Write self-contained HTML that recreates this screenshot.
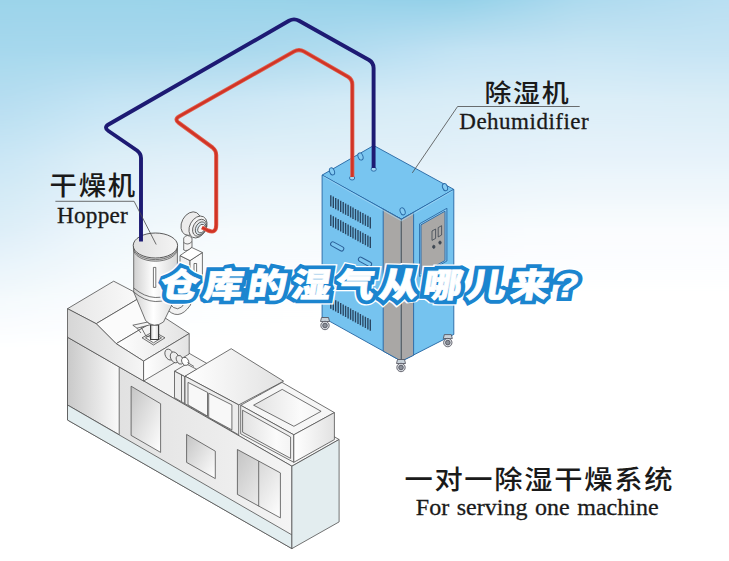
<!DOCTYPE html>
<html lang="zh"><head><meta charset="utf-8"><title>仓库的湿气从哪儿来?</title>
<style>
html,body{margin:0;padding:0;background:#fff;}
body{width:729px;height:561px;overflow:hidden;}
svg{display:block;}
.cn{font-family:"Liberation Sans","Noto Sans CJK SC","WenQuanYi Zen Hei",sans-serif;fill:#1a1a1a;font-weight:500;}
.en{font-family:"Liberation Serif","Noto Serif CJK SC",serif;fill:#1a1a1a;stroke:#1a1a1a;stroke-width:.3;}
.ttl{font-family:"Liberation Sans","Noto Sans CJK SC","WenQuanYi Zen Hei",sans-serif;font-weight:900;}
.o{stroke:#505050;stroke-width:.8;stroke-linejoin:round;}
.ob{stroke:#2a6aa6;stroke-width:.95;stroke-linejoin:round;}
</style></head><body>
<svg width="729" height="561" viewBox="0 0 729 561">
<defs>

<linearGradient id="s0" gradientUnits="userSpaceOnUse" x1="0" y1="0" x2="0" y2="561"><stop offset="0.0000" stop-color="#9cd4ea"/><stop offset="0.0891" stop-color="#a6d8ed"/><stop offset="0.1783" stop-color="#b5ddf1"/><stop offset="0.2852" stop-color="#cae6f5"/><stop offset="0.4100" stop-color="#dceef8"/><stop offset="0.5348" stop-color="#f4f9fd"/><stop offset="0.6239" stop-color="#ffffff"/><stop offset="1.0000" stop-color="#ffffff"/></linearGradient>
<linearGradient id="s1" gradientUnits="userSpaceOnUse" x1="0" y1="0" x2="0" y2="561"><stop offset="0.0000" stop-color="#9cd4ea"/><stop offset="0.0891" stop-color="#a6d8ed"/><stop offset="0.1783" stop-color="#b5ddf1"/><stop offset="0.2852" stop-color="#cae6f5"/><stop offset="0.4100" stop-color="#dceef8"/><stop offset="0.5348" stop-color="#f4f9fd"/><stop offset="0.6239" stop-color="#ffffff"/><stop offset="1.0000" stop-color="#ffffff"/></linearGradient>
<linearGradient id="s2" gradientUnits="userSpaceOnUse" x1="0" y1="0" x2="0" y2="561"><stop offset="0.0000" stop-color="#9cd4ea"/><stop offset="0.0891" stop-color="#a6d8ed"/><stop offset="0.1783" stop-color="#b5ddf1"/><stop offset="0.2852" stop-color="#cae6f5"/><stop offset="0.4100" stop-color="#dceef8"/><stop offset="0.5348" stop-color="#f4f9fd"/><stop offset="0.6239" stop-color="#ffffff"/><stop offset="1.0000" stop-color="#ffffff"/></linearGradient>
<linearGradient id="s3" gradientUnits="userSpaceOnUse" x1="0" y1="0" x2="0" y2="561"><stop offset="0.0000" stop-color="#9cd4ea"/><stop offset="0.0891" stop-color="#a6d8ed"/><stop offset="0.1783" stop-color="#b7def1"/><stop offset="0.2852" stop-color="#cce7f5"/><stop offset="0.4100" stop-color="#dfeff8"/><stop offset="0.5348" stop-color="#f5fafd"/><stop offset="0.6239" stop-color="#ffffff"/><stop offset="1.0000" stop-color="#ffffff"/></linearGradient>
<linearGradient id="s4" gradientUnits="userSpaceOnUse" x1="0" y1="0" x2="0" y2="561"><stop offset="0.0000" stop-color="#9cd4ea"/><stop offset="0.0891" stop-color="#a6d8ed"/><stop offset="0.1783" stop-color="#bae0f2"/><stop offset="0.2852" stop-color="#d1e9f6"/><stop offset="0.4100" stop-color="#e3f1f9"/><stop offset="0.5348" stop-color="#f6fbfd"/><stop offset="0.6239" stop-color="#ffffff"/><stop offset="1.0000" stop-color="#ffffff"/></linearGradient>
<linearGradient id="s5" gradientUnits="userSpaceOnUse" x1="0" y1="0" x2="0" y2="561"><stop offset="0.0000" stop-color="#9cd4ea"/><stop offset="0.0891" stop-color="#a7d8ed"/><stop offset="0.1783" stop-color="#bee1f3"/><stop offset="0.2852" stop-color="#d6ebf7"/><stop offset="0.4100" stop-color="#e8f3fa"/><stop offset="0.5348" stop-color="#f8fbfe"/><stop offset="0.6239" stop-color="#ffffff"/><stop offset="1.0000" stop-color="#ffffff"/></linearGradient>
<linearGradient id="s6" gradientUnits="userSpaceOnUse" x1="0" y1="0" x2="0" y2="561"><stop offset="0.0000" stop-color="#9cd4ea"/><stop offset="0.0891" stop-color="#a7d8ed"/><stop offset="0.1783" stop-color="#c2e3f4"/><stop offset="0.2852" stop-color="#dbeef8"/><stop offset="0.4100" stop-color="#ecf6fb"/><stop offset="0.5348" stop-color="#f9fcfe"/><stop offset="0.6239" stop-color="#ffffff"/><stop offset="1.0000" stop-color="#ffffff"/></linearGradient>
<linearGradient id="s7" gradientUnits="userSpaceOnUse" x1="0" y1="0" x2="0" y2="561"><stop offset="0.0000" stop-color="#9cd4ea"/><stop offset="0.0891" stop-color="#a7d8ed"/><stop offset="0.1783" stop-color="#c5e4f4"/><stop offset="0.2852" stop-color="#deeff8"/><stop offset="0.4100" stop-color="#eff7fc"/><stop offset="0.5348" stop-color="#fafdfe"/><stop offset="0.6239" stop-color="#ffffff"/><stop offset="1.0000" stop-color="#ffffff"/></linearGradient>
<linearGradient id="s8" gradientUnits="userSpaceOnUse" x1="0" y1="0" x2="0" y2="561"><stop offset="0.0000" stop-color="#9bd4ea"/><stop offset="0.0891" stop-color="#a8d8ed"/><stop offset="0.1783" stop-color="#c6e4f4"/><stop offset="0.2852" stop-color="#dfeff8"/><stop offset="0.4100" stop-color="#f1f8fc"/><stop offset="0.5348" stop-color="#fbfdfe"/><stop offset="0.6239" stop-color="#ffffff"/><stop offset="1.0000" stop-color="#ffffff"/></linearGradient>
<linearGradient id="s9" gradientUnits="userSpaceOnUse" x1="0" y1="0" x2="0" y2="561"><stop offset="0.0000" stop-color="#9bd3ea"/><stop offset="0.0891" stop-color="#a8d8ed"/><stop offset="0.1783" stop-color="#c8e5f4"/><stop offset="0.2852" stop-color="#e0f0f9"/><stop offset="0.4100" stop-color="#f2f9fc"/><stop offset="0.5348" stop-color="#fcfdfe"/><stop offset="0.6239" stop-color="#ffffff"/><stop offset="1.0000" stop-color="#ffffff"/></linearGradient>
<linearGradient id="s10" gradientUnits="userSpaceOnUse" x1="0" y1="0" x2="0" y2="561"><stop offset="0.0000" stop-color="#9ad3ea"/><stop offset="0.0891" stop-color="#a8d9ed"/><stop offset="0.1783" stop-color="#c9e6f5"/><stop offset="0.2852" stop-color="#e1f0f9"/><stop offset="0.4100" stop-color="#f4f9fd"/><stop offset="0.5348" stop-color="#fcfefe"/><stop offset="0.6239" stop-color="#ffffff"/><stop offset="1.0000" stop-color="#ffffff"/></linearGradient>
<linearGradient id="s11" gradientUnits="userSpaceOnUse" x1="0" y1="0" x2="0" y2="561"><stop offset="0.0000" stop-color="#9ad3ea"/><stop offset="0.0891" stop-color="#a9d9ee"/><stop offset="0.1783" stop-color="#cbe6f5"/><stop offset="0.2852" stop-color="#e1f0f9"/><stop offset="0.4100" stop-color="#f5fafd"/><stop offset="0.5348" stop-color="#fdfeff"/><stop offset="0.6239" stop-color="#ffffff"/><stop offset="1.0000" stop-color="#ffffff"/></linearGradient>
<linearGradient id="s12" gradientUnits="userSpaceOnUse" x1="0" y1="0" x2="0" y2="561"><stop offset="0.0000" stop-color="#99d3e9"/><stop offset="0.0891" stop-color="#abd9ee"/><stop offset="0.1783" stop-color="#cde7f5"/><stop offset="0.2852" stop-color="#e2f1f9"/><stop offset="0.4100" stop-color="#f5fafd"/><stop offset="0.5348" stop-color="#fdfeff"/><stop offset="0.6239" stop-color="#ffffff"/><stop offset="1.0000" stop-color="#ffffff"/></linearGradient>
<linearGradient id="s13" gradientUnits="userSpaceOnUse" x1="0" y1="0" x2="0" y2="561"><stop offset="0.0000" stop-color="#99d3e9"/><stop offset="0.0891" stop-color="#addaee"/><stop offset="0.1783" stop-color="#cfe8f6"/><stop offset="0.2852" stop-color="#e2f1f9"/><stop offset="0.4100" stop-color="#f5fafd"/><stop offset="0.5348" stop-color="#fefeff"/><stop offset="0.6239" stop-color="#ffffff"/><stop offset="1.0000" stop-color="#ffffff"/></linearGradient>
<linearGradient id="s14" gradientUnits="userSpaceOnUse" x1="0" y1="0" x2="0" y2="561"><stop offset="0.0000" stop-color="#98d2e9"/><stop offset="0.0891" stop-color="#afdbef"/><stop offset="0.1783" stop-color="#d1e9f6"/><stop offset="0.2852" stop-color="#e2f1f9"/><stop offset="0.4100" stop-color="#f5fafd"/><stop offset="0.5348" stop-color="#fefeff"/><stop offset="0.6239" stop-color="#ffffff"/><stop offset="1.0000" stop-color="#ffffff"/></linearGradient>
<linearGradient id="s15" gradientUnits="userSpaceOnUse" x1="0" y1="0" x2="0" y2="561"><stop offset="0.0000" stop-color="#98d2e9"/><stop offset="0.0891" stop-color="#b1dcf0"/><stop offset="0.1783" stop-color="#d3eaf6"/><stop offset="0.2852" stop-color="#e2f1f9"/><stop offset="0.4100" stop-color="#f5fafd"/><stop offset="0.5348" stop-color="#feffff"/><stop offset="0.6239" stop-color="#ffffff"/><stop offset="1.0000" stop-color="#ffffff"/></linearGradient>
<linearGradient id="s16" gradientUnits="userSpaceOnUse" x1="0" y1="0" x2="0" y2="561"><stop offset="0.0000" stop-color="#97d2e9"/><stop offset="0.0891" stop-color="#b5ddf1"/><stop offset="0.1783" stop-color="#d4eaf6"/><stop offset="0.2852" stop-color="#e3f1f9"/><stop offset="0.4100" stop-color="#f6fafd"/><stop offset="0.5348" stop-color="#feffff"/><stop offset="0.6239" stop-color="#ffffff"/><stop offset="1.0000" stop-color="#ffffff"/></linearGradient>
<linearGradient id="s17" gradientUnits="userSpaceOnUse" x1="0" y1="0" x2="0" y2="561"><stop offset="0.0000" stop-color="#96d1e9"/><stop offset="0.0891" stop-color="#b8dff2"/><stop offset="0.1783" stop-color="#d5ebf7"/><stop offset="0.2852" stop-color="#e3f1f9"/><stop offset="0.4100" stop-color="#f6fafd"/><stop offset="0.5348" stop-color="#feffff"/><stop offset="0.6239" stop-color="#ffffff"/><stop offset="1.0000" stop-color="#ffffff"/></linearGradient>
<linearGradient id="s18" gradientUnits="userSpaceOnUse" x1="0" y1="0" x2="0" y2="561"><stop offset="0.0000" stop-color="#95d1e9"/><stop offset="0.0891" stop-color="#bce0f3"/><stop offset="0.1783" stop-color="#d6ebf7"/><stop offset="0.2852" stop-color="#e3f1f9"/><stop offset="0.4100" stop-color="#f6fbfd"/><stop offset="0.5348" stop-color="#ffffff"/><stop offset="0.6239" stop-color="#ffffff"/><stop offset="1.0000" stop-color="#ffffff"/></linearGradient>
<linearGradient id="s19" gradientUnits="userSpaceOnUse" x1="0" y1="0" x2="0" y2="561"><stop offset="0.0000" stop-color="#95d1e8"/><stop offset="0.0891" stop-color="#c0e2f3"/><stop offset="0.1783" stop-color="#d8ecf7"/><stop offset="0.2852" stop-color="#e3f1f9"/><stop offset="0.4100" stop-color="#f7fbfd"/><stop offset="0.5348" stop-color="#ffffff"/><stop offset="0.6239" stop-color="#ffffff"/><stop offset="1.0000" stop-color="#ffffff"/></linearGradient>
<linearGradient id="s20" gradientUnits="userSpaceOnUse" x1="0" y1="0" x2="0" y2="561"><stop offset="0.0000" stop-color="#97d2e9"/><stop offset="0.0891" stop-color="#c3e3f4"/><stop offset="0.1783" stop-color="#d9ecf7"/><stop offset="0.2852" stop-color="#e4f2f9"/><stop offset="0.4100" stop-color="#f7fbfd"/><stop offset="0.5348" stop-color="#ffffff"/><stop offset="0.6239" stop-color="#ffffff"/><stop offset="1.0000" stop-color="#ffffff"/></linearGradient>
<linearGradient id="s21" gradientUnits="userSpaceOnUse" x1="0" y1="0" x2="0" y2="561"><stop offset="0.0000" stop-color="#9dd4ea"/><stop offset="0.0891" stop-color="#c4e3f4"/><stop offset="0.1783" stop-color="#d9edf7"/><stop offset="0.2852" stop-color="#e5f2fa"/><stop offset="0.4100" stop-color="#f8fbfe"/><stop offset="0.5348" stop-color="#ffffff"/><stop offset="0.6239" stop-color="#ffffff"/><stop offset="1.0000" stop-color="#ffffff"/></linearGradient>
<linearGradient id="s22" gradientUnits="userSpaceOnUse" x1="0" y1="0" x2="0" y2="561"><stop offset="0.0000" stop-color="#a2d6ec"/><stop offset="0.0891" stop-color="#c5e4f4"/><stop offset="0.1783" stop-color="#daedf8"/><stop offset="0.2852" stop-color="#e5f2fa"/><stop offset="0.4100" stop-color="#f9fcfe"/><stop offset="0.5348" stop-color="#ffffff"/><stop offset="0.6239" stop-color="#ffffff"/><stop offset="1.0000" stop-color="#ffffff"/></linearGradient>
<linearGradient id="s23" gradientUnits="userSpaceOnUse" x1="0" y1="0" x2="0" y2="561"><stop offset="0.0000" stop-color="#a8d8ed"/><stop offset="0.0891" stop-color="#c6e4f4"/><stop offset="0.1783" stop-color="#dbedf8"/><stop offset="0.2852" stop-color="#e6f3fa"/><stop offset="0.4100" stop-color="#f9fcfe"/><stop offset="0.5348" stop-color="#ffffff"/><stop offset="0.6239" stop-color="#ffffff"/><stop offset="1.0000" stop-color="#ffffff"/></linearGradient>
<linearGradient id="s24" gradientUnits="userSpaceOnUse" x1="0" y1="0" x2="0" y2="561"><stop offset="0.0000" stop-color="#aedbef"/><stop offset="0.0891" stop-color="#c8e5f4"/><stop offset="0.1783" stop-color="#dbeef8"/><stop offset="0.2852" stop-color="#e7f3fa"/><stop offset="0.4100" stop-color="#fafcfe"/><stop offset="0.5348" stop-color="#ffffff"/><stop offset="0.6239" stop-color="#ffffff"/><stop offset="1.0000" stop-color="#ffffff"/></linearGradient>
<linearGradient id="s25" gradientUnits="userSpaceOnUse" x1="0" y1="0" x2="0" y2="561"><stop offset="0.0000" stop-color="#b0dbef"/><stop offset="0.0891" stop-color="#c7e5f4"/><stop offset="0.1783" stop-color="#dbeef8"/><stop offset="0.2852" stop-color="#e7f3fa"/><stop offset="0.4100" stop-color="#fafcfe"/><stop offset="0.5348" stop-color="#ffffff"/><stop offset="0.6239" stop-color="#ffffff"/><stop offset="1.0000" stop-color="#ffffff"/></linearGradient>
<linearGradient id="s26" gradientUnits="userSpaceOnUse" x1="0" y1="0" x2="0" y2="561"><stop offset="0.0000" stop-color="#b2dcf0"/><stop offset="0.0891" stop-color="#c7e5f4"/><stop offset="0.1783" stop-color="#dbedf8"/><stop offset="0.2852" stop-color="#e7f3fa"/><stop offset="0.4100" stop-color="#fafcfe"/><stop offset="0.5348" stop-color="#ffffff"/><stop offset="0.6239" stop-color="#ffffff"/><stop offset="1.0000" stop-color="#ffffff"/></linearGradient>
<linearGradient id="s27" gradientUnits="userSpaceOnUse" x1="0" y1="0" x2="0" y2="561"><stop offset="0.0000" stop-color="#b4ddf1"/><stop offset="0.0891" stop-color="#c6e4f4"/><stop offset="0.1783" stop-color="#daedf8"/><stop offset="0.2852" stop-color="#e7f3fa"/><stop offset="0.4100" stop-color="#fafcfe"/><stop offset="0.5348" stop-color="#ffffff"/><stop offset="0.6239" stop-color="#ffffff"/><stop offset="1.0000" stop-color="#ffffff"/></linearGradient>
<linearGradient id="s28" gradientUnits="userSpaceOnUse" x1="0" y1="0" x2="0" y2="561"><stop offset="0.0000" stop-color="#b6def1"/><stop offset="0.0891" stop-color="#c6e4f4"/><stop offset="0.1783" stop-color="#daedf7"/><stop offset="0.2852" stop-color="#e7f3fa"/><stop offset="0.4100" stop-color="#fafcfe"/><stop offset="0.5348" stop-color="#ffffff"/><stop offset="0.6239" stop-color="#ffffff"/><stop offset="1.0000" stop-color="#ffffff"/></linearGradient>
<linearGradient id="s29" gradientUnits="userSpaceOnUse" x1="0" y1="0" x2="0" y2="561"><stop offset="0.0000" stop-color="#b9dff2"/><stop offset="0.0891" stop-color="#c6e4f4"/><stop offset="0.1783" stop-color="#daedf7"/><stop offset="0.2852" stop-color="#e7f3fa"/><stop offset="0.4100" stop-color="#fafcfe"/><stop offset="0.5348" stop-color="#ffffff"/><stop offset="0.6239" stop-color="#ffffff"/><stop offset="1.0000" stop-color="#ffffff"/></linearGradient>
<linearGradient id="s30" gradientUnits="userSpaceOnUse" x1="0" y1="0" x2="0" y2="561"><stop offset="0.0000" stop-color="#badff2"/><stop offset="0.0891" stop-color="#c6e4f4"/><stop offset="0.1783" stop-color="#d9edf7"/><stop offset="0.2852" stop-color="#e7f3fa"/><stop offset="0.4100" stop-color="#fafcfe"/><stop offset="0.5348" stop-color="#ffffff"/><stop offset="0.6239" stop-color="#ffffff"/><stop offset="1.0000" stop-color="#ffffff"/></linearGradient>
<linearGradient id="s31" gradientUnits="userSpaceOnUse" x1="0" y1="0" x2="0" y2="561"><stop offset="0.0000" stop-color="#badff2"/><stop offset="0.0891" stop-color="#c6e4f4"/><stop offset="0.1783" stop-color="#d9edf7"/><stop offset="0.2852" stop-color="#e7f3fa"/><stop offset="0.4100" stop-color="#fafcfe"/><stop offset="0.5348" stop-color="#ffffff"/><stop offset="0.6239" stop-color="#ffffff"/><stop offset="1.0000" stop-color="#ffffff"/></linearGradient>
<linearGradient id="s32" gradientUnits="userSpaceOnUse" x1="0" y1="0" x2="0" y2="561"><stop offset="0.0000" stop-color="#badff2"/><stop offset="0.0891" stop-color="#c6e4f4"/><stop offset="0.1783" stop-color="#d9edf7"/><stop offset="0.2852" stop-color="#e7f3fa"/><stop offset="0.4100" stop-color="#fafcfe"/><stop offset="0.5348" stop-color="#ffffff"/><stop offset="0.6239" stop-color="#ffffff"/><stop offset="1.0000" stop-color="#ffffff"/></linearGradient>
<filter id="hb" filterUnits="userSpaceOnUse" x="-81" y="0" width="891" height="561"><feGaussianBlur stdDeviation="16 0"/></filter>

<linearGradient id="gL" x1="0" y1="0" x2="1" y2="0"><stop offset="0" stop-color="#c9c9c9"/><stop offset="1" stop-color="#fafafa"/></linearGradient>
<linearGradient id="gD" x1="0" y1="0" x2="1" y2="1"><stop offset="0" stop-color="#c4c4c4"/><stop offset="1" stop-color="#ffffff"/></linearGradient>
<linearGradient id="gT" x1="0" y1="0" x2="1" y2="0"><stop offset="0" stop-color="#ffffff"/><stop offset="1" stop-color="#e2e2e2"/></linearGradient>
<linearGradient id="gF" x1="0" y1="0" x2="1" y2="0"><stop offset="0" stop-color="#dcdcdc"/><stop offset="1" stop-color="#f4f4f4"/></linearGradient>
<linearGradient id="gU" x1="0" y1="0" x2="1" y2="0"><stop offset="0" stop-color="#e6e6e6"/><stop offset="1" stop-color="#fbfbfb"/></linearGradient>
<linearGradient id="gB" x1="0" y1="0" x2="1" y2="0"><stop offset="0" stop-color="#d6d6d6"/><stop offset="1" stop-color="#f6f6f6"/></linearGradient>
<linearGradient id="gI" x1="0" y1="0" x2="1" y2="0"><stop offset="0" stop-color="#e2e2e2"/><stop offset=".7" stop-color="#fbfbfb"/><stop offset="1" stop-color="#f4f4f4"/></linearGradient>
<linearGradient id="gE" x1="0" y1="0" x2="1" y2="0"><stop offset="0" stop-color="#e0e0e0"/><stop offset="1" stop-color="#f4f4f4"/></linearGradient>
<linearGradient id="gC" x1="0" y1="0" x2="1" y2="0"><stop offset="0" stop-color="#d0d0d0"/><stop offset=".45" stop-color="#ffffff"/><stop offset="1" stop-color="#d8d8d8"/></linearGradient>
</defs>

<g filter="url(#hb)">
<rect x="-81" y="0" width="27.5" height="561" fill="url(#s0)"/>
<rect x="-54" y="0" width="27.5" height="561" fill="url(#s1)"/>
<rect x="-27" y="0" width="27.5" height="561" fill="url(#s2)"/>
<rect x="0" y="0" width="27.5" height="561" fill="url(#s3)"/>
<rect x="27" y="0" width="27.5" height="561" fill="url(#s4)"/>
<rect x="54" y="0" width="27.5" height="561" fill="url(#s5)"/>
<rect x="81" y="0" width="27.5" height="561" fill="url(#s6)"/>
<rect x="108" y="0" width="27.5" height="561" fill="url(#s7)"/>
<rect x="135" y="0" width="27.5" height="561" fill="url(#s8)"/>
<rect x="162" y="0" width="27.5" height="561" fill="url(#s9)"/>
<rect x="189" y="0" width="27.5" height="561" fill="url(#s10)"/>
<rect x="216" y="0" width="27.5" height="561" fill="url(#s11)"/>
<rect x="243" y="0" width="27.5" height="561" fill="url(#s12)"/>
<rect x="270" y="0" width="27.5" height="561" fill="url(#s13)"/>
<rect x="297" y="0" width="27.5" height="561" fill="url(#s14)"/>
<rect x="324" y="0" width="27.5" height="561" fill="url(#s15)"/>
<rect x="351" y="0" width="27.5" height="561" fill="url(#s16)"/>
<rect x="378" y="0" width="27.5" height="561" fill="url(#s17)"/>
<rect x="405" y="0" width="27.5" height="561" fill="url(#s18)"/>
<rect x="432" y="0" width="27.5" height="561" fill="url(#s19)"/>
<rect x="459" y="0" width="27.5" height="561" fill="url(#s20)"/>
<rect x="486" y="0" width="27.5" height="561" fill="url(#s21)"/>
<rect x="513" y="0" width="27.5" height="561" fill="url(#s22)"/>
<rect x="540" y="0" width="27.5" height="561" fill="url(#s23)"/>
<rect x="567" y="0" width="27.5" height="561" fill="url(#s24)"/>
<rect x="594" y="0" width="27.5" height="561" fill="url(#s25)"/>
<rect x="621" y="0" width="27.5" height="561" fill="url(#s26)"/>
<rect x="648" y="0" width="27.5" height="561" fill="url(#s27)"/>
<rect x="675" y="0" width="27.5" height="561" fill="url(#s28)"/>
<rect x="702" y="0" width="27.5" height="561" fill="url(#s29)"/>
<rect x="729" y="0" width="27.5" height="561" fill="url(#s30)"/>
<rect x="756" y="0" width="27.5" height="561" fill="url(#s31)"/>
<rect x="783" y="0" width="27.5" height="561" fill="url(#s32)"/>
</g>


<g class="o">
<polygon points="67.5,337.2 291.9,466.2 339.1,439.5 114.7,310.5" fill="#f4f4f4"/>
<polygon points="67.5,337.2 291.9,466.2 291.9,548.6 67.5,420.0" fill="url(#gF)"/>
<polygon points="67.5,337.2 119.2,366.9 119.2,434.7 67.5,405.0" fill="url(#gL)"/>
<polygon points="67.5,405.0 291.9,534.9 291.9,548.6 67.5,420.0" fill="#e3eef0"/>
<polygon points="291.9,466.2 339.1,439.5 339.1,521.9 291.9,548.6" fill="#e3edef"/>
<polygon points="131.1,386.2 160.6,403.7 160.6,452.4 131.1,435.4" fill="url(#gD)"/>
<polygon points="186.6,434.4 215.3,451.2 215.3,478.6 186.6,462.4" fill="url(#gD)"/>
<polygon points="237.4,449.5 280.4,472.9 280.4,517.9 237.4,494.4" fill="url(#gD)"/>
<line x1="258.7" y1="461.2" x2="258.7" y2="506.2"/>
</g>
<g class="o">
<polygon points="174.5,371.2 184.8,376.6 197.0,369.5 186.5,364.0" fill="#f6f6f6"/>
<polygon points="174.5,371.2 184.8,376.6 184.8,403.6 174.5,397.7" fill="#ececec"/>
<line x1="181.5" y1="375" x2="181.5" y2="401.5"/>
<polygon points="185.0,376.2 231.2,348.7 283.6,381.2 238.7,404.9" fill="url(#gT)"/>
<polygon points="185.0,376.2 238.7,404.9 238.7,434.9 185.0,403.7" fill="#ededed"/>
<polygon points="188.0,382.4 207.5,392.4 207.5,416.1 188.0,404.9" fill="#f8f8f8"/>
<polygon points="208.7,393.2 231.9,404.9 231.9,429.9 208.7,417.4" fill="#f8f8f8"/>
<polygon points="240.7,405.3 282.0,382.4 334.4,412.6 293.8,434.8" fill="#f6f6f6"/>
<polygon points="253.6,405.2 282.2,389.4 321.1,411.3 293.9,426.3" fill="url(#gI)"/>
<polygon points="240.7,405.3 293.8,434.8 293.8,462.3 240.7,433.8" fill="#f0f0f0"/>
<polygon points="242.6,410.2 290.6,437.0 290.6,458.4 242.6,432.2" fill="url(#gI)"/>
<polygon points="293.8,434.8 334.4,412.6 334.4,439.6 293.8,462.3" fill="url(#gT)"/>
</g>
<g class="o">
<polygon points="67.5,308.7 113.7,281.2 142.4,296.2 96.2,323.7" fill="url(#gU)"/>
<polygon points="96.2,323.7 142.4,296.2 162.4,316.2 116.2,343.7" fill="#fbfbfb"/>
<polygon points="116.2,343.7 162.4,316.2 189.2,333.6 143.6,361.1" fill="url(#gT)"/>
<polygon points="67.5,308.7 96.2,323.7 116.2,343.7 143.6,361.1 143.6,381.0 67.5,337.2" fill="url(#gB)"/>
<polygon points="143.6,361.1 189.2,333.6 189.2,354.0 143.6,381.0" fill="url(#gT)"/>
</g>
<g class="o" fill="#ededed">
<ellipse cx="169.2" cy="354.6" rx="4" ry="5.7" transform="rotate(-25 169.2 354.6)"/>
<ellipse cx="174.6" cy="357.4" rx="4" ry="5.7" transform="rotate(-25 174.6 357.4)"/>
<ellipse cx="179.8" cy="359.8" rx="3.2" ry="4.6" transform="rotate(-25 179.8 359.8)"/>
<ellipse cx="185.2" cy="361.4" rx="3.3" ry="4.2" transform="rotate(-25 185.2 361.4)" fill="#fff"/>
<line x1="187.5" y1="362.5" x2="194" y2="366.5"/>
</g>
<g class="o">
<path d="M165,300 L165,307 Q178,323 190.5,305 L192,296 Z" fill="#f2f2f2" stroke-width=".8"/>
<path d="M169,303 Q178,315 185.5,302" fill="none" stroke-width=".8"/>
<polygon points="142.0,337.8 153.5,345.0 165.0,337.8 153.5,331.5" fill="#e9e9e9"/>
<polygon points="145.5,337.8 153.5,342.8 161.5,337.8 153.5,333.3" fill="#fafafa"/>
<rect x="150.6" y="325" width="8" height="14.5" fill="url(#gC)" stroke="#3c3c3c" stroke-width="1.2"/>
<polygon points="132.8,325.2 147.0,322.2 151.0,324.6 137.0,328.2" fill="#f4f4f4"/>
<path d="M137,328.2 L141,333 M141,327 L146,336 L150,337" fill="none"/>
<path d="M133.7,292 L145.7,320.7 Q154,329 163.5,322 L177.2,294 Z" fill="url(#gC)"/>
<path d="M133.7,246 L133.7,292 Q155,310 177.4,294 L177.4,246 Z" fill="url(#gC)"/>
<path d="M133.7,288 Q155,306 177.4,290" fill="none"/>
<rect x="153.4" y="267.4" width="2.4" height="20" fill="#fff"/>
<ellipse cx="155.4" cy="248.8" rx="22" ry="12.4" fill="#dcdcdc" stroke="#5a5a5a"/>
<ellipse cx="155.4" cy="247.2" rx="22" ry="12.4" fill="#dcdcdc" stroke="#5a5a5a"/>
<ellipse cx="155.4" cy="245.5" rx="22.2" ry="12.5" fill="url(#gE)" stroke="#4a4a4a" stroke-width=".9"/>
</g>
<g class="o">
<polygon points="180.0,255.6 190.0,260.6 190.0,291.0 180.0,286.0" fill="#f0f0f0"/>
<polygon points="190.0,260.6 202.4,252.5 202.4,283.0 190.0,291.0" fill="#fafafa"/>
<polygon points="180.0,255.6 191.8,247.5 202.4,252.5 190.0,260.6" fill="#ffffff"/>
<rect x="194" y="263.5" width="2.6" height="14" fill="#fff"/>
<path d="M183.7,250 L183.7,238 Q187,233 192,238 L192,247 Q187,252 183.7,250 Z" fill="#f4f4f4"/>
<path d="M183.7,242.5 Q188,246 192,241.5" fill="none"/>
<ellipse cx="190.8" cy="223.6" rx="9" ry="12.4" transform="rotate(28 190.8 223.6)" fill="#ececec"/>
<ellipse cx="198" cy="227" rx="8.2" ry="11.6" transform="rotate(28 198 227)" fill="#f4f4f4"/>
<ellipse cx="199.6" cy="227.8" rx="6.4" ry="9" transform="rotate(28 199.6 227.8)" fill="#e9e9e9"/>
<ellipse cx="200.6" cy="228.3" rx="4.8" ry="6.8" transform="rotate(28 200.6 228.3)" fill="#dde9ef"/>
<ellipse cx="201.4" cy="228.6" rx="3.2" ry="4.6" transform="rotate(28 201.4 228.6)" fill="#f6f6f6"/>
</g>
<g class="ob">
<polygon points="322.1,175.1 373.7,145.5 453.8,189.4 401.4,219.2" fill="#78c5f0"/>
<polygon points="322.1,175.1 401.4,219.2 401.4,361.2 322.1,317.1" fill="#76c3ef"/>
<polygon points="401.4,219.2 453.8,189.4 453.8,334.4 401.4,361.2" fill="#75c3ef"/>
<polygon points="383.2,209.1 401.4,219.2 401.4,361.2 383.2,351.1" fill="#a9a7a5"/>
<polygon points="401.4,219.2 413.6,212.3 413.6,355.3 401.4,361.2" fill="#aaa8a8"/>
<polygon points="419.6,223.8 446.9,208.3 446.9,261.0 419.6,276.5" fill="#8fcdf2"/>
<polygon points="421.0,224.8 445.0,211.2 445.0,260.5 421.0,274.2" fill="#aaa8a6"/>
</g>
<line x1="401.4" y1="220.2" x2="401.4" y2="361.2" stroke="#5f6468" stroke-width="1.1"/>
<g fill="#aaa8a6" stroke="#3d4652" stroke-width=".8">
<polygon points="432.0,231.0 435.6,229.0 435.6,238.4 432.0,240.4"/>
<polygon points="438.2,227.6 441.6,225.7 441.6,235.0 438.2,237.0"/>
<ellipse cx="433.8" cy="246.8" rx="1.2" ry="1.6" fill="#3d4652"/>
<ellipse cx="440" cy="242.6" rx="1.2" ry="1.6" fill="#3d4652"/>
</g>
<polyline points="323.3,176.5 401.4,220.8 452.6,190.8" fill="none" stroke="#a8daf6" stroke-width=".7"/>
<g stroke="#2a4662" stroke-width="1.4" fill="none">
<path d="M330.8,195.2v11.3 M333.3,196.6v11.3 M335.7,197.9v11.3 M338.2,199.3v11.3 M340.7,200.7v11.3 M343.2,202.1v11.3 M345.6,203.4v11.3 M348.1,204.8v11.3 M350.6,206.2v11.3 M353.0,207.6v11.3 M355.5,208.9v11.3 M358.0,210.3v11.3 M360.4,211.7v11.3 M362.9,213.1v11.3 M365.4,214.4v11.3 M367.9,215.8v11.3 M370.3,217.2v11.3"/>
<path d="M330.8,214.8v11.3 M333.3,216.2v11.3 M335.7,217.5v11.3 M338.2,218.9v11.3 M340.7,220.3v11.3 M343.2,221.7v11.3 M345.6,223.0v11.3 M348.1,224.4v11.3 M350.6,225.8v11.3 M353.0,227.2v11.3 M355.5,228.5v11.3 M358.0,229.9v11.3 M360.4,231.3v11.3 M362.9,232.7v11.3 M365.4,234.0v11.3 M367.9,235.4v11.3 M370.3,236.8v11.3"/>
<path d="M330.8,297.5v11.3 M333.3,298.9v11.3 M335.7,300.2v11.3 M338.2,301.6v11.3 M340.7,303.0v11.3 M343.2,304.4v11.3 M345.6,305.7v11.3 M348.1,307.1v11.3 M350.6,308.5v11.3 M353.0,309.9v11.3 M355.5,311.2v11.3 M358.0,312.6v11.3 M360.4,314.0v11.3 M362.9,315.4v11.3 M365.4,316.7v11.3 M367.9,318.1v11.3 M370.3,319.5v11.3"/>
</g>
<g class="ob" fill="#7cc7f1" stroke-width="1.1" stroke="#2a5f98">
<line x1="332.8" y1="244.0" x2="341.6" y2="248.8" stroke="#2a5f98" stroke-width="5.4" stroke-linecap="round"/>
<line x1="332.8" y1="244.0" x2="341.6" y2="248.8" stroke="#7cc7f1" stroke-width="3.4" stroke-linecap="round"/>
<line x1="360.6" y1="259.4" x2="369.4" y2="264.2" stroke="#2a5f98" stroke-width="5.4" stroke-linecap="round"/>
<line x1="360.6" y1="259.4" x2="369.4" y2="264.2" stroke="#7cc7f1" stroke-width="3.4" stroke-linecap="round"/>
<ellipse cx="332" cy="171.4" rx="2.4" ry="3.7" transform="rotate(-20 332 171.4)" fill="#84cbf2"/>
<ellipse cx="360.5" cy="156.5" rx="2.4" ry="3.7" transform="rotate(-20 360.5 156.5)" fill="#84cbf2"/>
<ellipse cx="445" cy="187.2" rx="2.4" ry="3.7" transform="rotate(-20 445 187.2)" fill="#84cbf2"/>
<ellipse cx="402.6" cy="211.3" rx="2.4" ry="3.7" transform="rotate(-20 402.6 211.3)" fill="#84cbf2"/>
<ellipse cx="352.1" cy="178" rx="2.6" ry="2" fill="#a5d6f3"/>
<ellipse cx="373.7" cy="169.2" rx="2.6" ry="2" fill="#a5d6f3"/>
</g>
<g stroke="#4a4a55" stroke-width=".8"><path d="M321.5,317.5h7l1,4h-9z" fill="#c8d2da"/><circle cx="325" cy="325.5" r="4.2" fill="#d9dde2"/><circle cx="325" cy="325.5" r="2.3" fill="#8a8f98"/></g>
<g stroke="#4a4a55" stroke-width=".8"><path d="M397.5,359.5h7l1,4h-9z" fill="#c8d2da"/><circle cx="401" cy="367.5" r="4.2" fill="#d9dde2"/><circle cx="401" cy="367.5" r="2.3" fill="#8a8f98"/></g>
<g stroke="#4a4a55" stroke-width=".8"><path d="M444.3,334.6h7l1,4h-9z" fill="#c8d2da"/><circle cx="447.8" cy="342.6" r="4.2" fill="#d9dde2"/><circle cx="447.8" cy="342.6" r="2.3" fill="#8a8f98"/></g>
<g fill="none" stroke-linejoin="round" stroke-linecap="butt">
<path d="M141,241.5 L141,158 Q141,153.5 137,150.5 L108.5,131 Q103.5,127.5 108.5,124.5 L289,20.8 Q294,18 299,20.8 L369,60 Q373.6,62.8 373.6,68 L373.6,168" stroke="#1d1a73" stroke-width="3.9"/>
<path d="M202,227.5 L208,230.5 Q216.2,234 216.2,225 L216.2,155 Q216.2,150.5 212.5,147.5 L179,123 Q174,119.5 179,116.5 L294,51.5 Q299,48.7 304,51.5 L348,76.8 Q352.3,79.5 352.3,84.5 L352.3,177" stroke="#e0604e" stroke-width="4.1"/>
<path d="M202,227.5 L208,230.5 Q216.2,234 216.2,225 L216.2,155 Q216.2,150.5 212.5,147.5 L179,123 Q174,119.5 179,116.5 L294,51.5 Q299,48.7 304,51.5 L348,76.8 Q352.3,79.5 352.3,84.5 L352.3,177" stroke="#d13426" stroke-width="2.5"/>
</g>
<g fill="none" stroke="#4a4a4a" stroke-width=".8">
<polyline points="55.4,201.3 134.1,201.3 156.2,244.5"/>
<polyline points="579.7,106.5 457.6,106.5 412.3,172.9"/>
</g>
<text class="cn" transform="translate(49.6,195.2) scale(1.07,1)" font-size="25.6" letter-spacing="1.6">干燥机</text>
<text class="en" x="57" y="222.8" font-size="23.3" letter-spacing=".2">Hopper</text>
<text class="cn" transform="translate(484.4,102.2) scale(1.07,1)" font-size="25.2" letter-spacing="1.6">除湿机</text>
<text class="en" x="459.3" y="128.9" font-size="23" letter-spacing=".5">Dehumidifier</text>
<text class="cn" transform="translate(404.4,488.6) scale(1.075,1)" font-size="26.3" letter-spacing="1.6">一对一除湿干燥系统</text>
<text class="en" x="415.8" y="515" font-size="24" letter-spacing="0" word-spacing="1.6">For serving one machine</text>
<g class="ttl" font-size="33.5" transform="translate(158.6,297.4) skewX(-9) scale(1.165,1)" letter-spacing="4.15" stroke-linejoin="miter" stroke-miterlimit="1.5">
<defs><text id="tt" x="0" y="0">仓库的湿气从哪儿来?</text></defs>
<use href="#tt" fill="#fff" stroke="#fff" stroke-width="10.8"/>
<use href="#tt" fill="#fff" stroke="#1b85cf" stroke-width="8.2"/>
<use href="#tt" fill="#fff" stroke="#fff" stroke-width=".7"/>
</g>
</svg></body></html>
